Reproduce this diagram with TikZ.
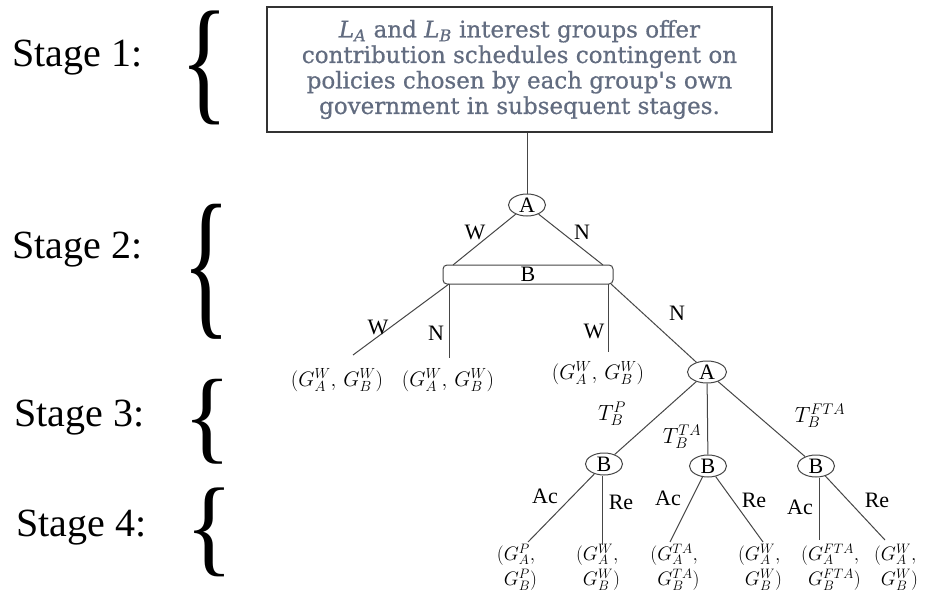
\documentclass[tikz,border=0pt]{standalone}
\usepackage{fix-cm}
\usepackage{graphicx}
\usepackage{fontspec}
\setmainfont{Liberation Serif}
\newfontfamily\boxfont[FakeBold=0.6]{DejaVu Serif}
\usetikzlibrary{shapes.geometric}
\definecolor{boxtext}{RGB}{98,108,128}
\definecolor{linec}{RGB}{70,70,70}
\newcommand\stagebrace[1]{\resizebox*{48pt}{#1}{\{}}
\begin{document}
\begin{tikzpicture}[x=1pt,y=-1pt,
  stagelab/.style={font=\fontsize{40}{44}\selectfont, anchor=west, inner sep=0},
  bracenode/.style={inner sep=0, anchor=center},
  gnode/.style={draw=linec, ellipse, minimum width=37pt, minimum height=22pt, inner sep=0, font=\fontsize{22}{22}\selectfont, line width=1pt},
  edge/.style={line width=1pt, draw=linec},
  lab/.style={font=\fontsize{22}{22}\selectfont, inner sep=0},
  mlab/.style={font=\fontsize{22}{24}\selectfont, inner sep=0},
  pay/.style={font=\fontsize{21}{22}\selectfont, inner sep=0, align=left},
  pay2/.style={font=\fontsize{19.5}{20}\selectfont, inner sep=0, align=left},
]
\useasboundingbox (0,0) rectangle (939,594);
\fill[white] (0,0) rectangle (939,594);
% stage labels and braces
\node[stagelab] (s1) at (12,58) {Stage 1:};
\node[stagelab] (s2) at (12,250) {Stage 2:};
\node[stagelab] (s3) at (14,418) {Stage 3:};
\node[stagelab] (s4) at (16,528) {Stage 4:};
\node[bracenode] (br1) at (205,68) {\stagebrace{114pt}};
\node[bracenode] (br2) at (207,272) {\stagebrace{135pt}};
\node[bracenode] (br3) at (208,422) {\stagebrace{85pt}};
\node[bracenode] (br4) at (210,532) {\stagebrace{89pt}};
% top box
\node[draw=black!80, line width=1.3pt, minimum width=505pt, minimum height=125pt, inner sep=0,
  text=boxtext, align=center, font=\boxfont\fontsize{23}{25.5}\selectfont] (top) at (519.5,69.5)
  {\textit{L}\textsubscript{\textit{A}} and \textit{L}\textsubscript{\textit{B}} interest groups offer\\
   contribution schedules contingent on\\
   policies chosen by each group's own\\
   government in subsequent stages.};
% stage 2
\node[gnode] (A1) at (527,205) {A};
\draw[edge] (top.south -| A1) -- (A1);
\node[draw=linec, line width=1pt, rounded corners=4pt, minimum width=170pt, minimum height=19pt,
  inner sep=0, font=\fontsize{22}{22}\selectfont] (IS) at (528,274.5) {B};
\coordinate (isTL) at (453,265);
\coordinate (isTR) at (603,265);
\draw[edge] (A1) -- (isTL);
\draw[edge] (A1) -- (isTR);
\node[lab] (lW1) at (475,232) {W};
\node[lab] (lN1) at (582,232) {N};
\coordinate (isBL) at (449,284);
\coordinate (isBR) at (608,284);
\coordinate (isBR2) at (611,284);
\coordinate (e1) at (353,355);
\coordinate (e2) at (449,358);
\coordinate (e3) at (608,352);
\node[gnode, minimum width=39pt] (A2) at (707,372) {A};
\draw[edge] (isBL) -- (e1);
\draw[edge] (isBL) -- (e2);
\draw[edge] (isBR) -- (e3);
\draw[edge] (isBR2) -- (A2);
\node[lab] (lW2) at (378,327) {W};
\node[lab] (lN2) at (436,333) {N};
\node[lab] (lW3) at (594,331) {W};
\node[lab] (lN3) at (677,313) {N};
\node[pay] (L1) at (337,380) {$(G_A^W,\,G_B^W)$};
\node[pay] (L2) at (448,380) {$(G_A^W,\,G_B^W)$};
\node[pay] (L3) at (598,373) {$(G_A^W,\,G_B^W)$};
% stage 3
\node[gnode] (B1) at (604,464) {B};
\node[gnode] (B2) at (708,466) {B};
\node[gnode] (B3) at (816,466) {B};
\draw[edge] (A2) -- (B1);
\draw[edge] (A2) -- (B2);
\draw[edge] (A2) -- (B3);
\node[mlab] (tP) at (612,414) {$T_B^P$};
\node[mlab] (tTA) at (682,437) {$T_B^{TA}$};
\node[mlab] (tFTA) at (820,416) {$T_B^{FTA}$};
% stage 4
\coordinate (c1) at (528,542);
\coordinate (c2) at (602,545);
\coordinate (c3) at (670,542);
\coordinate (c4) at (763,542);
\coordinate (c5) at (819,540);
\coordinate (c6) at (885,540);
\draw[edge] (B1) -- (c1);
\draw[edge] (B1.south -| c2) -- (c2);
\draw[edge] (B2) -- (c3);
\draw[edge] (B2) -- (c4);
\draw[edge] (B3.south -| c5) -- (c5);
\draw[edge] (B3) -- (c6);
\node[lab] (ac1) at (545,496) {Ac};
\node[lab] (re1) at (621,502) {Re};
\node[lab] (ac2) at (668,498) {Ac};
\node[lab] (re2) at (754,500) {Re};
\node[lab] (ac3) at (800,507) {Ac};
\node[lab] (re3) at (877,500) {Re};
\node[pay2] (T1) at (517,567) {$(G_A^P,$\\[3pt]\hphantom{$($}$G_B^P)$};
\node[pay2] (T2) at (598,567) {$(G_A^W,$\\[3pt]\hphantom{$($}$G_B^W)$};
\node[pay2] (T3) at (675,567) {$(G_A^{TA},$\\[3pt]\hphantom{$($}$G_B^{TA})$};
\node[pay2] (T4) at (760,567) {$(G_A^W,$\\[3pt]\hphantom{$($}$G_B^W)$};
\node[pay2] (T5) at (831,567) {$(G_A^{FTA},$\\[3pt]\hphantom{$($}$G_B^{FTA})$};
\node[pay2] (T6) at (896,567) {$(G_A^W,$\\[3pt]\hphantom{$($}$G_B^W)$};
\end{tikzpicture}
\end{document}
